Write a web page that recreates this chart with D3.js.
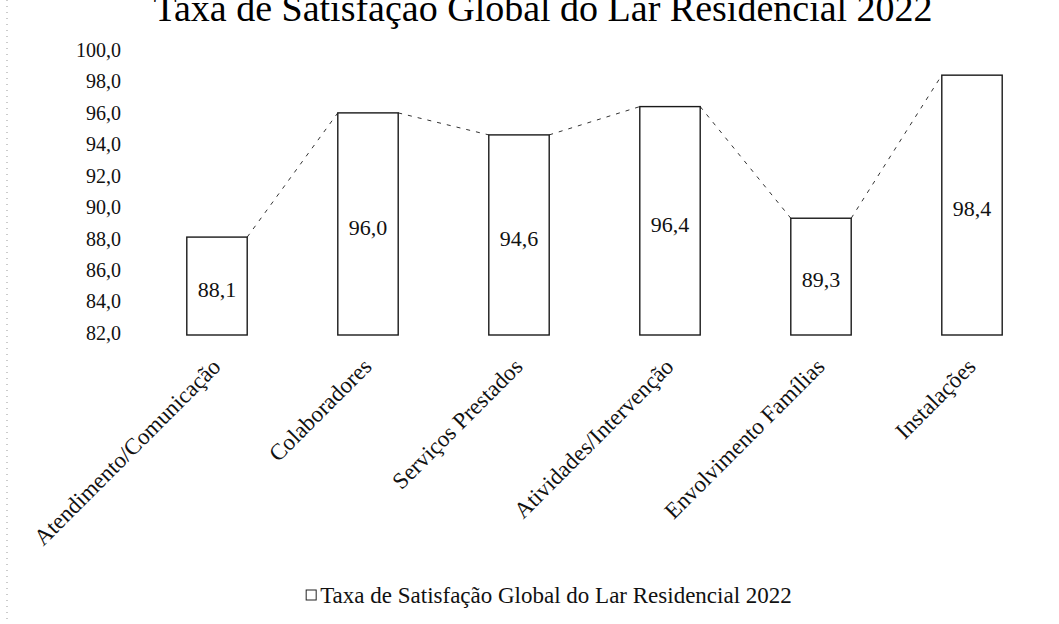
<!DOCTYPE html>
<html>
<head>
<meta charset="utf-8">
<style>
    body { margin: 0; background: white; }
    svg { background-color: white; font-family: "Liberation Serif", "DejaVu Serif", serif; }
    .bar { fill: white; stroke: #1a1a1a; stroke-width: 1.4; }
    .series-line { stroke: #333; stroke-width: 1; stroke-dasharray: 4,6; fill: none; }
</style>
</head>
<body>
<script src="https://cdnjs.cloudflare.com/ajax/libs/d3/7.8.5/d3.min.js"></script>
<script>

const width = 1059;
const height = 624;

const title = 'Taxa de Satisfação Global do Lar Residencial 2022';
const categories = ['Atendimento/Comunicação', 'Colaboradores', 'Serviços Prestados',
    'Atividades/Intervenção', 'Envolvimento Famílias', 'Instalações'];
const values = [88.1, 96.0, 94.6, 96.4, 89.3, 98.4];
const yTicks = [82, 84, 86, 88, 90, 92, 94, 96, 98, 100];

const fmt = v => d3.format('.1f')(v).replace('.', ',');

const svg = d3.select('body').append('svg')
    .attr('width', width)
    .attr('height', height);

const x = d3.scaleBand()
    .domain(categories)
    .range([141.5, 1047.5])
    .paddingInner(0.6)
    .paddingOuter(0.3);

const y = d3.scaleLinear()
    .domain([82, 100])
    .range([333, 50]);

// scan edge
svg.append('line')
    .attr('x1', 7).attr('x2', 7)
    .attr('y1', 0).attr('y2', height)
    .style('stroke', '#999')
    .style('stroke-width', 1)
    .style('stroke-dasharray', '1,5');

// title (its top runs off the scanned page, as in the reference)
svg.append('text')
    .attr('x', 543)
    .attr('y', 21)
    .attr('text-anchor', 'middle')
    .style('font-size', '38px')
    .text(title);

// y axis labels only
const yAxis = d3.axisLeft(y)
    .tickValues(yTicks)
    .tickFormat(fmt)
    .tickSize(0)
    .tickPadding(0);

svg.append('g')
    .attr('transform', 'translate(121,0)')
    .call(yAxis)
    .call(g => g.select('.domain').remove())
    .selectAll('text')
        .style('font-family', '"Liberation Serif", serif')
        .style('font-size', '20px')
        .style('fill', '#111');

// series lines between bar tops
const pairs = d3.pairs(values.map((v, i) => ({ c: categories[i], v })));
svg.selectAll('.series-line')
    .data(pairs)
    .join('line')
    .attr('class', 'series-line')
    .attr('x1', d => x(d[0].c) + x.bandwidth())
    .attr('y1', d => y(d[0].v))
    .attr('x2', d => x(d[1].c))
    .attr('y2', d => y(d[1].v));

// bars
svg.selectAll('.bar')
    .data(values)
    .join('rect')
    .attr('class', 'bar')
    .attr('x', (d, i) => x(categories[i]))
    .attr('y', d => y(d))
    .attr('width', x.bandwidth())
    .attr('height', d => y(82) - y(d) + 2);

// value labels
svg.selectAll('.val')
    .data(values)
    .join('text')
    .attr('class', 'val')
    .attr('x', (d, i) => x(categories[i]) + x.bandwidth() / 2)
    .attr('y', d => (y(d) + y(82)) / 2 + 4)
    .attr('dy', '0.35em')
    .attr('text-anchor', 'middle')
    .style('font-size', '22px')
    .style('fill', '#111')
    .text(fmt);

// category labels, rotated
svg.selectAll('.cat')
    .data(categories)
    .join('text')
    .attr('class', 'cat')
    .attr('transform', d => `translate(${x(d) + x.bandwidth() / 2 + 5}, 368) rotate(-45)`)
    .attr('text-anchor', 'end')
    .style('font-size', '23px')
    .style('fill', '#111')
    .text(d => d);

// legend
const legend = svg.append('g').attr('transform', 'translate(548, 595)');
const legendText = legend.append('text')
    .attr('x', 8)
    .attr('y', 0)
    .attr('dy', '0.35em')
    .attr('text-anchor', 'middle')
    .style('font-size', '23px')
    .style('fill', '#111')
    .text(title);
const bb = legendText.node().getBBox();
legend.append('rect')
    .attr('x', bb.x - 14)
    .attr('y', -5)
    .attr('width', 10)
    .attr('height', 10)
    .style('fill', 'white')
    .style('stroke', '#222')
    .style('stroke-width', 1);

</script>
</body>
</html>
